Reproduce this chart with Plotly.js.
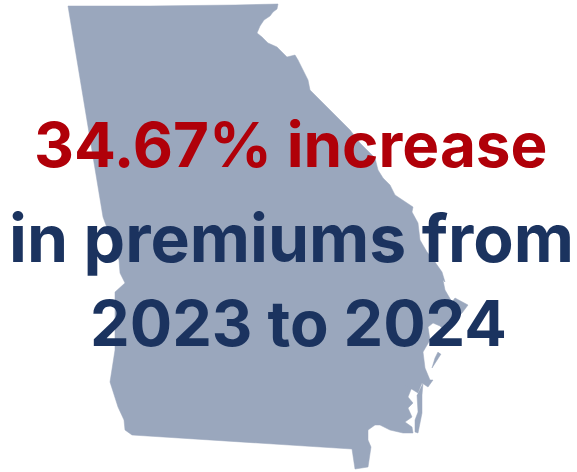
<!DOCTYPE html>
<html><head><meta charset="utf-8">
<script src="https://cdn.plot.ly/plotly-3.0.1.min.js"></script>
<style>html,body{margin:0;padding:0;background:#fff}#c{width:577px;height:472px}</style></head>
<body><div id="c"></div>
<script>
const stateX = [68,150,235,278,277,273,270,264,260,257,262,268,277,287,295,298,303,308,310,315,322,337,350,360,375,378,383,390,395,413,412,418,420,427,435,442,445,443,445,452,455,468,462,450,446,440,433,428,430,423,425,430,433,428,422,418,405,412,408,413,408,412,405,412,413,403,390,380,375,368,368,371,368,355,352,132,125,124,118,110,113,115,115,125,120,119,103,68];
const stateY = [6,6,5,4,9,12,16,20,26,33,37,43,47,57,55,60,70,80,90,95,103,118,130,143,158,170,178,185,195,207,212,223,240,252,262,272,282,280,290,302,298,305,313,323,332,326,323,327,340,352,368,380,380,387,383,393,385,387,397,403,408,417,422,427,433,433,430,425,425,430,440,447,467,469,449,435,430,420,407,382,363,350,292,283,273,260,217,6];
const islandX = [441,434,432,435,438];
const islandY = [354,364,368,358,352];
const barrierX = [423,422,422,418,415,415,418,417];
const barrierY = [383,395,413,433,432,420,412,395];
const lines = ["34.67% increase","in premiums from","2023 to 2024"];
const lineColors = ["#b00009","#1b335f","#1b335f"];
const lineSizes = [62,66,63];
const fill = "#9aa7bd";
const shape = (x,y)=>({x,y,mode:"lines",fill:"toself",fillcolor:fill,line:{color:fill,width:0.5},hoverinfo:"skip",showlegend:false});
const rows = [144,238,323];
Plotly.newPlot("c",[shape(stateX,stateY),shape(islandX,islandY),shape(barrierX,barrierY)],{
  width:577,height:472,margin:{l:0,r:0,t:0,b:0},paper_bgcolor:"#fff",plot_bgcolor:"#fff",showlegend:false,
  xaxis:{range:[0,577],visible:false,fixedrange:true},
  yaxis:{range:[472,0],visible:false,fixedrange:true},
  annotations:lines.map((t,i)=>({text:"<b>"+t+"</b>",x:[291,291,298][i],y:rows[i],xref:"x",yref:"y",xanchor:"center",yanchor:"middle",showarrow:false,
    font:{family:"Inter",size:lineSizes[i],color:lineColors[i]}}))
},{displayModeBar:false,staticPlot:true});
</script></body></html>
